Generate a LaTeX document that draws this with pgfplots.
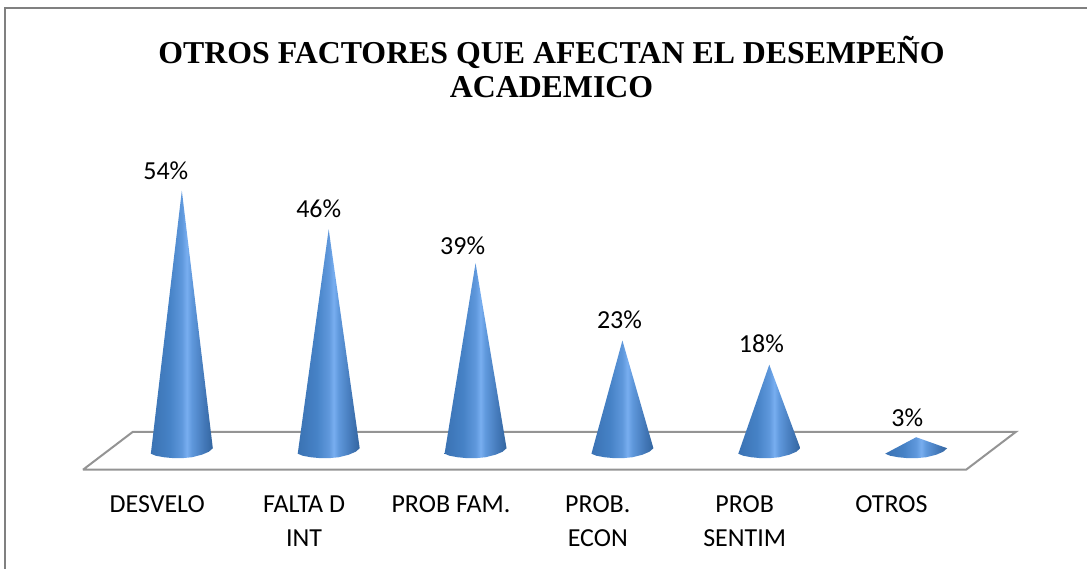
\documentclass[border=0pt]{standalone}
\usepackage{pgfplots}
\pgfplotsset{compat=1.18}
\usepackage{fontspec}
\setmainfont{Carlito}
\newfontfamily\titlefont{Liberation Serif}
\definecolor{cl}{HTML}{3A72B3}
\definecolor{cm}{HTML}{4682C6}
\definecolor{cs}{HTML}{5F98DC}
\definecolor{clight}{HTML}{78AEF0}
\definecolor{cn}{HTML}{4378B8}
\definecolor{cr}{HTML}{33659F}
\pgfdeclarehorizontalshading{cone}{100bp}{
 color(0bp)=(cl); color(25bp)=(cl); color(40bp)=(cm); color(50bp)=(cs); color(54bp)=(clight); color(58bp)=(cs); color(68bp)=(cn); color(75bp)=(cr); color(100bp)=(cr)}
\pgfplotsset{conefill/.style={draw=none,shading=cone,forget plot}}
\begin{document}
\begin{tikzpicture}
\begin{axis}[
 scale only axis,width=816pt,height=426.75pt,
 xmin=-1.2381,xmax=6.1633,ymin=-24.17,ymax=93.39,
 clip=false,
 axis line style={draw=none},
 ytick=\empty,
 xtick={0,1,2,3,4,5},
 xticklabels={DESVELO,FALTA D\\INT,PROB FAM.,PROB.\\ECON,PROB\\SENTIM,OTROS},
 major tick length=0pt,
 xticklabel style={align=center,font=\fontsize{19.5}{25.5}\selectfont,anchor=north,xshift=-18.5pt,yshift=58.25pt},
 title={OTROS FACTORES QUE AFECTAN EL DESEMPEÑO\\ACADEMICO},
 title style={at={(axis description cs:0.5,0.868)},anchor=center,align=center,xshift=6pt,font=\titlefont\bfseries\fontsize{23.9}{25.5}\selectfont},
]
% frame
\addplot[draw=black!50,line width=1.5pt,forget plot] coordinates {(-1.204,-24.17) (-1.204,91.74) (6.1633,91.74)};
% floor
\addplot[draw=black!42,line width=1.5pt,forget plot] coordinates {(-0.673,-3.72) (-0.333,4.13) (5.68,4.13) (5.34,-3.72) (-0.673,-3.72)};
% cones
\addplot[conefill] coordinates {(-0.211,-0.41) (-0.177,-0.83) (-0.122,-1.14) (-0.054,-1.34) (0,-1.34) (0.068,-1.14) (0.136,-0.62) (0.184,0) (0.211,0.72) (0,54)} -- cycle;
\addplot[conefill] coordinates {(0.789,-0.41) (0.823,-0.83) (0.878,-1.14) (0.946,-1.34) (1,-1.34) (1.068,-1.14) (1.136,-0.62) (1.184,0) (1.211,0.72) (1,46)} -- cycle;
\addplot[conefill] coordinates {(1.789,-0.41) (1.823,-0.83) (1.878,-1.14) (1.946,-1.34) (2,-1.34) (2.068,-1.14) (2.136,-0.62) (2.184,0) (2.211,0.72) (2,39)} -- cycle;
\addplot[conefill] coordinates {(2.789,-0.41) (2.823,-0.83) (2.878,-1.14) (2.946,-1.34) (3,-1.34) (3.068,-1.14) (3.136,-0.62) (3.184,0) (3.211,0.72) (3,23)} -- cycle;
\addplot[conefill] coordinates {(3.789,-0.41) (3.823,-0.83) (3.878,-1.14) (3.946,-1.34) (4,-1.34) (4.068,-1.14) (4.136,-0.62) (4.184,0) (4.211,0.72) (4,18)} -- cycle;
\addplot[conefill] coordinates {(4.789,-0.41) (4.823,-0.83) (4.878,-1.14) (4.946,-1.34) (5,-1.34) (5.068,-1.14) (5.136,-0.62) (5.184,0) (5.211,0.72) (5,3)} -- cycle;
% data labels
\addplot[only marks,mark=none,point meta=explicit symbolic,
 nodes near coords,
 nodes near coords style={anchor=center,font=\fontsize{19.5}{22}\selectfont,inner sep=0pt}]
 coordinates {(-0.109,58.06)[54\%] (0.932,50.2)[46\%] (1.912,42.56)[39\%] (2.98,27.27)[23\%] (3.946,22.3)[18\%] (4.939,7.0)[3\%]};
\end{axis}
\end{tikzpicture}
\end{document}
